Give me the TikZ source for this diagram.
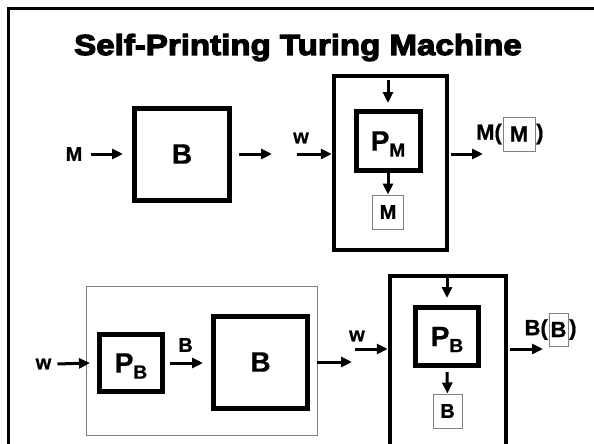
\documentclass[tikz,border=0pt]{standalone}
\usepackage{fontspec}
\setmainfont{Liberation Sans}[BoldFeatures={FakeBold=0.8}]
\newfontfamily\titlefont[FakeStretch=1.14, BoldFeatures={FakeBold=4}]{Liberation Sans}
\usetikzlibrary{positioning, arrows.meta}
\definecolor{TapeGray}{RGB}{128, 128, 128}
\newcommand{\subidx}[1]{\raisebox{-6pt}[0pt][0pt]{\fontsize{19}{19}\selectfont #1}}

\begin{document}
\begin{tikzpicture}[x=1pt, y=-1pt,
        machine/.style={draw, line width=5pt, rectangle, inner sep=0pt, align=center, font=\bfseries\fontsize{28}{28}\selectfont},
        shell/.style={draw, line width=4.5pt, rectangle, inner sep=0pt},
        tape/.style={draw=TapeGray, line width=1pt, rectangle, inner sep=0pt, font=\bfseries\fontsize{20}{20}\selectfont},
        group/.style={draw=TapeGray, line width=1pt, rectangle, inner sep=0pt},
        lbl/.style={inner sep=0pt, font=\bfseries\fontsize{20}{20}\selectfont},
        result/.style={inner sep=0.5pt, font=\bfseries\fontsize{22}{22}\selectfont},
        arrow/.style={-{Triangle[length=11pt, width=10pt]}, line width=3pt}
      ]
        \clip (0,0) rectangle (594,444);
        % Frame
        \draw [line width=2.7pt] (8.3,450) -- (8.3,8.7) -- (600,8.7);

        % Title
        \node [anchor=base, inner sep=0pt, font={\titlefont\bfseries\fontsize{29}{29}\selectfont}] (title) at (298,55) {Self-Printing Turing Machine};

        % Top row: B builds the printer
        \node [lbl] (lblM) at (74,154) {M};
        \node [machine, minimum width=95pt, minimum height=92pt] (B) at (182,154) {B};
        \coordinate (Bout) at (272,154);
        \coordinate (Win) at (297,154);
        \node [lbl] (lblW) at (301,138) {w};
        \node [shell, minimum width=113pt, minimum height=174pt] (T) at (390.5,163) {};
        \node [machine, minimum width=64pt, minimum height=59pt] (PM) at (388,141) {P\subidx{M}};
        \node [tape, minimum width=31pt, minimum height=34pt] (tapeM) at (388,212) {M};
        \coordinate (Mout) at (483,154);
        \node [tape, font=\bfseries\fontsize{22}{22}\selectfont, minimum width=32pt, minimum height=34pt] (resM) at (519,134) {M};
        \node [result, left=0pt of resM] (resMl) {M(};
        \node [result, right=0pt of resM] (resMr) {)};

        % Connections
        \draw [arrow] ([xshift=8pt]lblM.east) -- ([xshift=-9pt]B.west);
        \draw [arrow] ([xshift=7pt]B.east) -- (Bout);
        \draw [arrow] (Win) -- (Win -| T.west);
        \draw [arrow] ([yshift=-6pt]T.north -| PM.north) -- ([yshift=6pt]PM.north);
        \draw [arrow] (PM.south) -- (tapeM.north);
        \draw [arrow] ([xshift=2pt]T.east |- Mout) -- (Mout);

        % Bottom row: B applied to itself
        \node [group, minimum width=231pt, minimum height=149pt] (G) at (201.5,360.5) {};
        \node [lbl] (lblW2) at (43.5,364) {w};
        \node [machine, minimum width=63pt, minimum height=57pt] (PB) at (131,363) {P\subidx{B}};
        \node [lbl] (lblB) at (185.5,345) {B};
        \node [machine, minimum width=94pt, minimum height=92pt] (B2) at (260.5,362) {B};
        \coordinate (B2out) at (352,362);
        \coordinate (Win2) at (355,349);
        \node [lbl] (lblW3) at (357,336) {w};
        \node [shell, minimum width=116pt, minimum height=204pt] (T2) at (448,378) {};
        \node [machine, minimum width=63pt, minimum height=58pt] (PB2) at (447,336.5) {P\subidx{B}};
        \node [tape, minimum width=29pt, minimum height=34pt] (tapeB) at (447.5,411) {B};
        \coordinate (Bout2) at (543,349);
        \node [tape, font=\bfseries\fontsize{22}{22}\selectfont, minimum width=19pt, minimum height=33pt] (resB) at (558.5,329.5) {B};
        \node [result, left=0pt of resB] (resBl) {B(};
        \node [result, right=0pt of resB] (resBr) {)};

        % Connections
        \draw [arrow] ([xshift=6pt]lblW2.east) -- ([xshift=-7pt]PB.west);
        \draw [arrow] ([xshift=5pt]PB.east) -- ([xshift=-8pt]PB.east -| B2.west);
        \draw [arrow] ([xshift=7pt]B2.east) -- (B2out);
        \draw [arrow] (Win2) -- (Win2 -| T2.west);
        \draw [arrow] ([yshift=-4pt]T2.north -| PB2.north) -- ([yshift=7pt]PB2.north);
        \draw [arrow] ([yshift=-4pt]PB2.south) -- (tapeB.north);
        \draw [arrow] ([xshift=2pt]T2.east |- Bout2) -- (Bout2);
      \end{tikzpicture}
\end{document}
